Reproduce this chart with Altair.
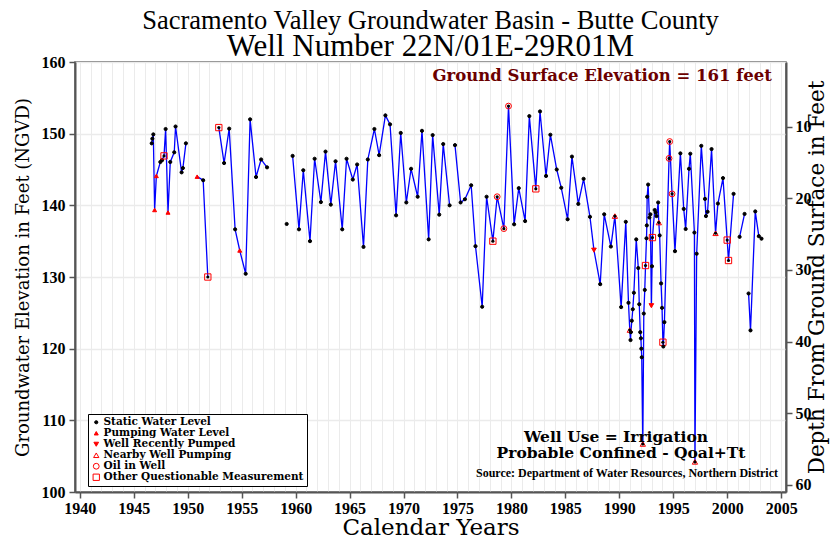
import altair as alt
import pandas as pd

# ---------------- data ----------------
years = [
    1946.66, 1946.72, 1946.81, 1946.93, 1947.09, 1947.46, 1947.62, 1947.80, 1947.95, 1948.17,
    1948.38, 1948.75, 1948.87, 1949.43, 1949.55, 1949.83,
    1950.87, 1951.43, 1951.86,
    1952.88, 1953.37, 1953.84, 1954.39, 1954.82, 1955.37, 1955.78, 1956.33, 1956.80, 1957.35,
    1959.17,
    1959.72, 1960.31, 1960.71, 1961.33, 1961.76, 1962.34, 1962.77, 1963.26, 1963.70, 1964.32,
    1964.72, 1965.30, 1965.70, 1966.29, 1966.69, 1967.30, 1967.74, 1968.32, 1968.75, 1969.31,
    1969.74, 1970.26, 1970.70, 1971.31, 1971.71, 1972.33, 1972.70, 1973.31, 1973.68, 1974.27,
    1974.77, 1975.29, 1975.69, 1976.27, 1976.67, 1977.29, 1977.70, 1978.28, 1978.68, 1979.30,
    1979.73, 1980.25, 1980.68, 1981.27, 1981.66, 1982.26, 1982.65, 1983.21, 1983.61, 1984.20,
    1984.62, 1985.21, 1985.61, 1986.20, 1986.69, 1987.28, 1987.65, 1988.23, 1988.60, 1989.22,
    1989.59, 1990.17, 1990.60, 1990.85, 1990.97, 1991.04, 1991.07, 1991.16, 1991.25, 1991.35,
    1991.57, 1991.76, 1991.85, 1991.94, 1992.00, 1992.04, 1992.08, 1992.18, 1992.27, 1992.36,
    1992.43, 1992.52, 1992.55, 1992.58, 1992.67, 1992.79, 1992.88, 1992.97, 1993.03, 1993.07,
    1993.28, 1993.37, 1993.45, 1993.60, 1993.66, 1993.74, 1993.87, 1993.96, 1994.04, 1994.08,
    1994.18, 1994.61, 1994.67, 1994.89, 1995.16, 1995.66, 1995.97, 1996.15, 1996.46, 1996.58,
    1996.96, 1997.01, 1997.17, 1997.60, 1997.94, 1998.03, 1998.18, 1998.55, 1998.92, 1999.14,
    1999.61, 2000.00, 2000.12, 2000.59,
    2001.15, 2001.61,
    2001.98, 2002.16, 2002.60, 2002.93, 2003.18,
]
elevations = [
    148.65, 149.3, 149.9, 139.35, 144.1, 146.05, 146.3, 146.9, 150.65, 139.0,
    146.05, 147.4, 151.0, 144.6, 145.2, 148.65,
    144.0, 143.5, 130.0,
    150.85, 145.9, 150.7, 136.65, 133.7, 130.45, 152.0, 143.95, 146.4, 145.3,
    137.4,
    146.9, 136.65, 144.9, 135.0, 146.5, 140.45, 147.5, 140.1, 146.15, 136.65,
    146.5, 143.6, 145.7, 134.2, 146.4, 150.65, 147.0, 152.55, 151.3, 138.6,
    150.1, 140.4, 145.1, 141.2, 150.4, 135.25, 149.8, 138.7, 148.55, 140.0,
    148.4, 140.4, 140.85, 142.8, 134.3, 125.85, 141.2, 135.0, 141.2, 136.75,
    153.85, 137.35, 142.4, 137.8, 152.45, 142.3, 153.1, 144.1, 149.85, 145.0,
    142.45, 138.05, 146.8, 140.2, 143.7, 138.4, 133.75, 129.0, 138.75, 134.25,
    138.5, 125.8, 137.7, 126.4, 122.6, 121.2, 122.3, 123.9, 125.5, 127.8,
    135.25, 131.25, 126.2, 122.3, 121.45, 120.0, 118.8, 106.7, 124.9, 128.2,
    131.6, 135.4, 137.2, 141.2, 142.9, 138.3, 138.75, 126.0, 131.5, 135.5,
    139.35, 139.0, 138.5, 140.4, 137.6, 135.8, 129.1, 125.7, 120.9, 120.3,
    123.7, 146.55, 148.9, 141.6, 133.6, 147.25, 139.5, 136.7, 145.1, 147.2,
    136.2, 104.2, 133.25, 148.3, 140.9, 138.5, 139.1, 147.85, 136.1, 140.25,
    143.8, 135.15, 132.3, 141.6,
    135.6, 138.8,
    127.7, 122.55, 139.15, 135.7, 135.35,
]
# S static, P pumping, R recently pumped, N nearby pumping, O oil, Q questionable
codes = [
    "S", "S", "S", "P", "P", "S", "S", "Q", "S", "P",
    "S", "S", "S", "S", "S", "S",
    "P", "S", "Q",
    "Q", "S", "S", "S", "P", "S", "S", "S", "S", "S",
    "S",
    "S", "S", "S", "S", "S", "S", "S", "S", "S", "S",
    "S", "S", "S", "S", "S", "S", "S", "S", "S", "S",
    "S", "S", "S", "S", "S", "S", "S", "S", "S", "S",
    "S", "S", "S", "S", "S", "S", "S", "Q", "O", "O",
    "O", "S", "S", "S", "S", "Q", "S", "S", "S", "S",
    "S", "S", "S", "S", "S", "S", "R", "S", "S", "S",
    "N", "S", "S", "S", "N", "S", "S", "S", "S", "S",
    "S", "S", "S", "S", "S", "S", "S", "N", "S", "S",
    "Q", "S", "S", "S", "S", "S", "S", "R", "S", "Q",
    "S", "S", "S", "S", "N", "S", "S", "S", "Q", "S",
    "S", "O", "O", "O", "S", "S", "S", "S", "S", "S",
    "S", "N", "S", "S", "S", "S", "S", "S", "N", "S",
    "S", "Q", "Q", "S",
    "S", "S",
    "S", "S", "S", "S", "S",
]
# first year of each unbroken stretch of the line
segment_starts = [1946.66, 1950.87, 1952.88, 1959.17, 1959.72, 1974.77, 2001.15, 2001.98]

status_codes = ["S", "P", "R", "N", "O", "Q"]
status_names = ["Static Water Level", "Pumping Water Level", "Well Recently Pumped",
                "Nearby Well Pumping", "Oil in Well", "Other Questionable Measurement"]
status_shapes = ["circle", "triangle-up", "triangle-down", "triangle-up", "circle", "square"]
status_fills = ["black", "red", "red", "transparent", "transparent", "transparent"]
status_strokes = ["black", "red", "red", "red", "red", "red"]
status_sizes = [10, 40, 36, 60, 50, 64]

ground_surface = 161
y_ticks = [100, 110, 120, 130, 140, 150, 160]
depth_ticks = [10, 20, 30, 40, 50, 60]
year_ticks = list(range(1940, 2006))

# ---------------- build table ----------------
name_of = dict(zip(status_codes, status_names))
df = pd.DataFrame({"year": years, "elev": elevations, "code": codes})
df["status"] = df["code"].map(name_of)
df["seg"] = [sum(1 for s in segment_starts if s <= y) for y in years]
df["depth"] = ground_surface - df["elev"]

SERIF = "Liberation Serif"
WIDE = "DejaVu Serif"
GRID = "#ebebeb"
AX = "#555555"

x_scale = alt.Scale(domain=[1939.55, 2005.45], nice=False, zero=False)
y_scale = alt.Scale(domain=[100, 160], nice=False, zero=False)

x_axis = alt.Axis(
    values=year_ticks, format="d",
    labelExpr="datum.value % 5 == 0 ? datum.label : ''",
    labelOverlap=False, labelFlush=False,
    grid=True, gridColor=GRID, gridWidth=1,
    tickOpacity={"condition": {"test": "datum.value % 5 === 0", "value": 1}, "value": 0},
    tickSize=6, tickColor=AX, tickWidth=1.5,
    domainColor=AX, domainWidth=2,
    labelFont=SERIF, labelFontSize=16, labelFontWeight="bold", labelColor="black",
    labelPadding=2,
    title="Calendar Years", titleFont=WIDE, titleFontSize=23, titleFontWeight="normal",
    titleColor="black", titlePadding=0,
)
x_enc = alt.X("year:Q", scale=x_scale, axis=x_axis)

y_enc = alt.Y(
    "elev:Q", scale=y_scale,
    axis=alt.Axis(
        values=y_ticks, grid=True, gridColor=GRID, gridWidth=1.5,
        tickSize=6, tickColor=AX, tickWidth=1.5, domainColor=AX, domainWidth=2,
        labelFont=SERIF, labelFontSize=16, labelFontWeight="bold", labelColor="black",
        labelPadding=4,
        title="Groundwater Elevation in Feet (NGVD)", titleFont=WIDE, titleFontSize=18,
        titleFontWeight="normal", titleColor="black", titlePadding=9,
    ),
)

base = alt.Chart(df)

line = base.mark_line(color="#0000ff", strokeWidth=1.3).encode(
    x=x_enc, y=y_enc, detail="seg:N", order="year:Q"
)

markers = base.mark_point(strokeWidth=1, opacity=1).encode(
    x=x_enc,
    y=y_enc,
    shape=alt.Shape("status:N", scale=alt.Scale(domain=status_names, range=status_shapes),
                    title=None),
    fill=alt.Fill("status:N", scale=alt.Scale(domain=status_names, range=status_fills),
                  title=None),
    stroke=alt.Stroke("status:N", scale=alt.Scale(domain=status_names, range=status_strokes),
                      title=None),
    size=alt.Size("status:N", scale=alt.Scale(domain=status_names, range=status_sizes),
                  title=None),
)

dots = base.transform_filter(
    alt.FieldOneOfPredicate(field="code", oneOf=["N", "O", "Q"])
).mark_point(filled=True, color="black", size=10, opacity=1).encode(
    x=x_enc,
    y=y_enc,
)

notes = pd.DataFrame({
    "t": ["Well Use = Irrigation", "Probable Confined - Qoal+Tt"],
    "px": [541, 546],
    "py": [375, 391],
})
note_text = alt.Chart(notes).mark_text(
    font=WIDE, fontSize=15.5, fontWeight="bold", color="black", align="center", baseline="middle"
).encode(x=alt.X("px:Q", scale=None), y=alt.Y("py:Q", scale=None), text="t:N")

source_text = alt.Chart(pd.DataFrame({"t": ["Source:  Department of Water Resources, Northern District"]})).mark_text(
    font=SERIF, fontSize=12, fontWeight="bold", color="black", align="center", baseline="middle"
).encode(x=alt.value(552), y=alt.value(411), text="t:N")

gse_text = alt.Chart(pd.DataFrame({"t": [f"Ground Surface Elevation = {ground_surface} feet"]})).mark_text(
    font=WIDE, fontSize=16.5, fontWeight="bold", color="#6b0000", align="right", baseline="middle"
).encode(x=alt.value(697), y=alt.value(14), text="t:N")

main = alt.layer(line, markers, dots, note_text, source_text, gse_text)

depth_layer = base.mark_point(opacity=0).encode(
    x=x_enc,
    y=alt.Y(
        "depth:Q",
        scale=alt.Scale(domain=[ground_surface - 160, ground_surface - 100], reverse=True,
                        nice=False, zero=False),
        axis=alt.Axis(
            orient="right", values=depth_ticks, grid=False,
            tickSize=6, tickColor=AX, tickWidth=1.5, domainColor=AX, domainWidth=2,
            labelFont=SERIF, labelFontSize=16, labelFontWeight="bold", labelColor="black",
            labelPadding=3,
            title="Depth From Ground Surface in Feet", titleFont=WIDE, titleFontSize=21.5,
            titleFontWeight="normal", titleColor="black", titleAngle=270, titlePadding=17,
        ),
    ),
)

chart = alt.layer(main, depth_layer).resolve_scale(y="independent").properties(
    width=711,
    height=430,
    autosize=alt.AutoSizeParams(type="none"),
    padding={"left": 67, "top": 54, "right": 45, "bottom": 44},
    background="white",
    title=alt.TitleParams(
        text="Sacramento Valley Groundwater Basin - Butte County",
        subtitle="Well Number 22N/01E-29R01M",
        font=SERIF, fontSize=26.5, fontWeight="normal", color="black",
        subtitleFont=SERIF, subtitleFontSize=31, subtitleColor="black",
        anchor="middle", offset=-8, subtitlePadding=-2,
    ),
).configure_view(
    stroke=AX, strokeWidth=1.5
).configure_legend(
    orient="none", legendX=13, legendY=352,
    strokeColor="black", fillColor="white", padding=3,
    labelFont=WIDE, labelFontSize=10.5, labelFontWeight="bold", labelColor="black",
    labelLimit=300, rowPadding=0, symbolStrokeWidth=1, labelOffset=2,
)

chart.save("out.html", embed_options={"renderer": "svg", "actions": False})
